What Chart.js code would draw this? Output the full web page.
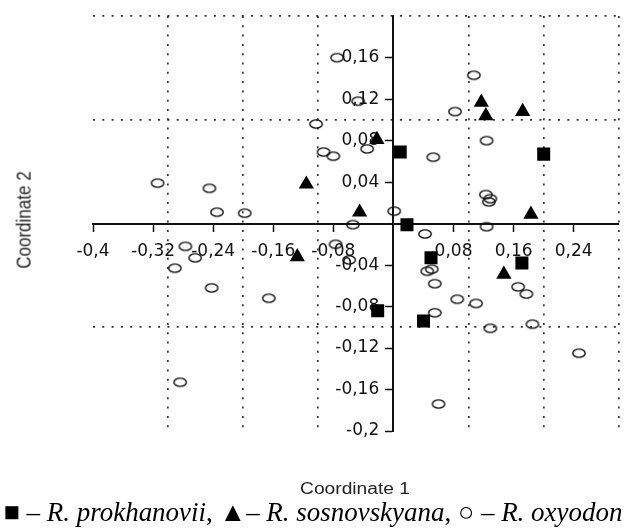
<!DOCTYPE html>
<html><head><meta charset="utf-8">
<script src="https://cdn.jsdelivr.net/npm/chart.js@4.4.1/dist/chart.umd.min.js"></script>
<style>
html,body{margin:0;padding:0;background:#fff;}
#wrap{position:relative;width:628px;height:528px;overflow:hidden;background:#fff;}
#c{position:absolute;left:0;top:0;}
.t{position:absolute;white-space:nowrap;color:#222;line-height:1;}
#xt{font-family:'Liberation Sans',Arial,sans-serif;font-size:16px;left:355px;top:489px;transform:translate(-50%,-50%) scaleX(1.2);}
#yt{font-family:'Liberation Sans',Arial,sans-serif;font-size:17px;left:24px;top:220px;transform:translate(-50%,-50%) scaleX(1.2) rotate(-90deg);}
#cap{font-family:'Liberation Serif','Times New Roman',serif;font-size:27px;left:313px;top:512px;color:#000;transform:translate(-50%,-50%);}
</style></head>
<body>
<div id="wrap">
<canvas id="c" width="628" height="528"></canvas>
<div class="t" id="xt">Coordinate 1</div>
<div class="t" id="yt">Coordinate 2</div>
<div class="t" id="cap">■ – <i>R. prokhanovii</i>, ▲– <i>R. sosnovskyana</i>, ○ – <i>R. oxyodon</i></div>
</div>
<script>
// Series values
const prokhanoviiX = [0.009, 0.200, 0.018, 0.050, 0.171, -0.021, 0.040];
const prokhanoviiY = [0.069, 0.067, -0.001, -0.033, -0.038, -0.084, -0.094];

const sosnovskyanaX = [-0.116, -0.022, -0.045, -0.128, 0.117, 0.123, 0.172, 0.183, 0.147];
const sosnovskyanaY = [0.038, 0.081, 0.011, -0.032, 0.117, 0.104, 0.108, 0.009, -0.049];

const oxyodonX = [-0.075, -0.047, -0.103, -0.093, -0.080, -0.035, 0.053, 0.107, 0.082, 0.124,
                  0.123, 0.129, 0.127, 0.001, -0.054, 0.124, 0.042, -0.314, -0.245, -0.235,
                  -0.198, -0.277, -0.264, -0.291, -0.242, -0.166, -0.284, -0.077, -0.059, 0.045,
                  0.051, 0.055, 0.085, 0.110, 0.055, 0.166, 0.177, 0.185, 0.129, 0.247, 0.060];
const oxyodonY = [0.160, 0.118, 0.096, 0.069, 0.065, 0.072, 0.064, 0.143, 0.108, 0.080,
                  0.028, 0.024, 0.021, 0.012, -0.001, -0.003, -0.010, 0.039, 0.034, 0.011,
                  0.010, -0.022, -0.033, -0.043, -0.062, -0.072, -0.153, -0.020, -0.035, -0.046,
                  -0.044, -0.058, -0.073, -0.077, -0.086, -0.061, -0.068, -0.097, -0.101, -0.125, -0.174];

// Axis ticks and labels
const xTicks = [-0.4, -0.32, -0.24, -0.16, -0.08, 0.08, 0.16, 0.24];
const xTickLabels = ['-0,4', '-0,32', '-0,24', '-0,16', '-0,08', '0,08', '0,16', '0,24'];
const yTicks = [-0.2, -0.16, -0.12, -0.08, -0.04, 0.04, 0.08, 0.12, 0.16];
const yTickLabels = ['-0,2', '-0,16', '-0,12', '-0,08', '-0,04', '0,04', '0,08', '0,12', '0,16'];
// Dotted grid positions
const xGrid = [-0.3, -0.2, -0.1, 0.1, 0.2, 0.3];
const yGrid = [-0.1, 0.1, 0.2];

const X_MIN = -0.4, X_MAX = 0.3, Y_MIN = -0.2, Y_MAX = 0.2;
// trailing gap keeps y labels clear of the tick marks (labels are right-aligned on the axis)
const Y_LABEL_GAP = '  \u2009';

function toPts(xs, ys) { return xs.map((x, i) => ({x: x, y: ys[i]})); }

function makeEllipse() {
  const c = document.createElement('canvas');
  c.width = 16; c.height = 12;
  const g = c.getContext('2d');
  g.lineWidth = 1.4; g.strokeStyle = '#111';
  g.beginPath(); g.ellipse(8, 6, 6.2, 4.1, 0, 0, Math.PI * 2); g.stroke();
  return c;
}

const tickFont = {family: "'DejaVu Sans', sans-serif", size: 17};

new Chart(document.getElementById('c'), {
  type: 'scatter',
  data: {
    datasets: [
      {label: 'R. prokhanovii', data: toPts(prokhanoviiX, prokhanoviiY), xAxisID: 'x', yAxisID: 'y',
       pointStyle: 'rect', radius: 9.2, backgroundColor: '#000', borderColor: '#000', borderWidth: 0},
      {label: 'R. sosnovskyana', data: toPts(sosnovskyanaX, sosnovskyanaY), xAxisID: 'x', yAxisID: 'y',
       pointStyle: 'triangle', radius: 8.8, backgroundColor: '#000', borderColor: '#000', borderWidth: 0},
      {label: 'R. oxyodon', data: toPts(oxyodonX, oxyodonY), xAxisID: 'x', yAxisID: 'y',
       pointStyle: makeEllipse(), radius: 7, backgroundColor: 'rgba(0,0,0,0)', borderColor: '#111', borderWidth: 0}
    ]
  },
  options: {
    responsive: false, animation: false, events: [],
    layout: {padding: {left: 93, top: 13, right: 9, bottom: 97}},
    plugins: {legend: {display: false}, tooltip: {enabled: false}, title: {display: false}},
    scales: {
      x: {
        type: 'linear', axis: 'x', min: X_MIN, max: X_MAX, position: {y: 0},
        afterBuildTicks: s => { s.ticks = xTicks.map(v => ({value: v})); },
        ticks: {callback: (v, i) => xTickLabels[i], font: tickFont, color: '#111', padding: 11, maxRotation: 0, autoSkip: false},
        grid: {display: true, drawOnChartArea: false, drawTicks: true, tickLength: 7, tickWidth: 1.5, tickColor: '#111'},
        border: {display: true, color: '#111', width: 2}
      },
      y: {
        type: 'linear', axis: 'y', min: Y_MIN, max: Y_MAX, position: {x: 0},
        afterBuildTicks: s => { s.ticks = yTicks.map(v => ({value: v})); },
        ticks: {callback: (v, i) => yTickLabels[i] + Y_LABEL_GAP, font: tickFont, color: '#111', padding: 6, autoSkip: false},
        grid: {display: true, drawOnChartArea: false, drawTicks: true, tickLength: 7, tickWidth: 1.5, tickColor: '#111'},
        border: {display: true, color: '#111', width: 2}
      },
      gx: {
        type: 'linear', axis: 'x', min: X_MIN, max: X_MAX, position: 'top',
        afterBuildTicks: s => { s.ticks = xGrid.map(v => ({value: v})); },
        ticks: {display: false},
        grid: {display: true, drawTicks: false, color: '#333', lineWidth: 1.7},
        border: {display: false, dash: [2, 7.3]}
      },
      gy: {
        type: 'linear', axis: 'y', min: Y_MIN, max: Y_MAX, position: 'right',
        afterBuildTicks: s => { s.ticks = yGrid.map(v => ({value: v})); },
        ticks: {display: false},
        grid: {display: true, drawTicks: false, color: '#333', lineWidth: 1.7},
        border: {display: false, dash: [2, 7.3]}
      }
    }
  }
});

// fit caption width to the reference (~619px)
const cap = document.getElementById('cap');
const w = cap.getBoundingClientRect().width;
cap.style.transform = 'translate(-50%,-50%) scaleX(' + (619 / w).toFixed(3) + ')';
</script>
</body></html>
